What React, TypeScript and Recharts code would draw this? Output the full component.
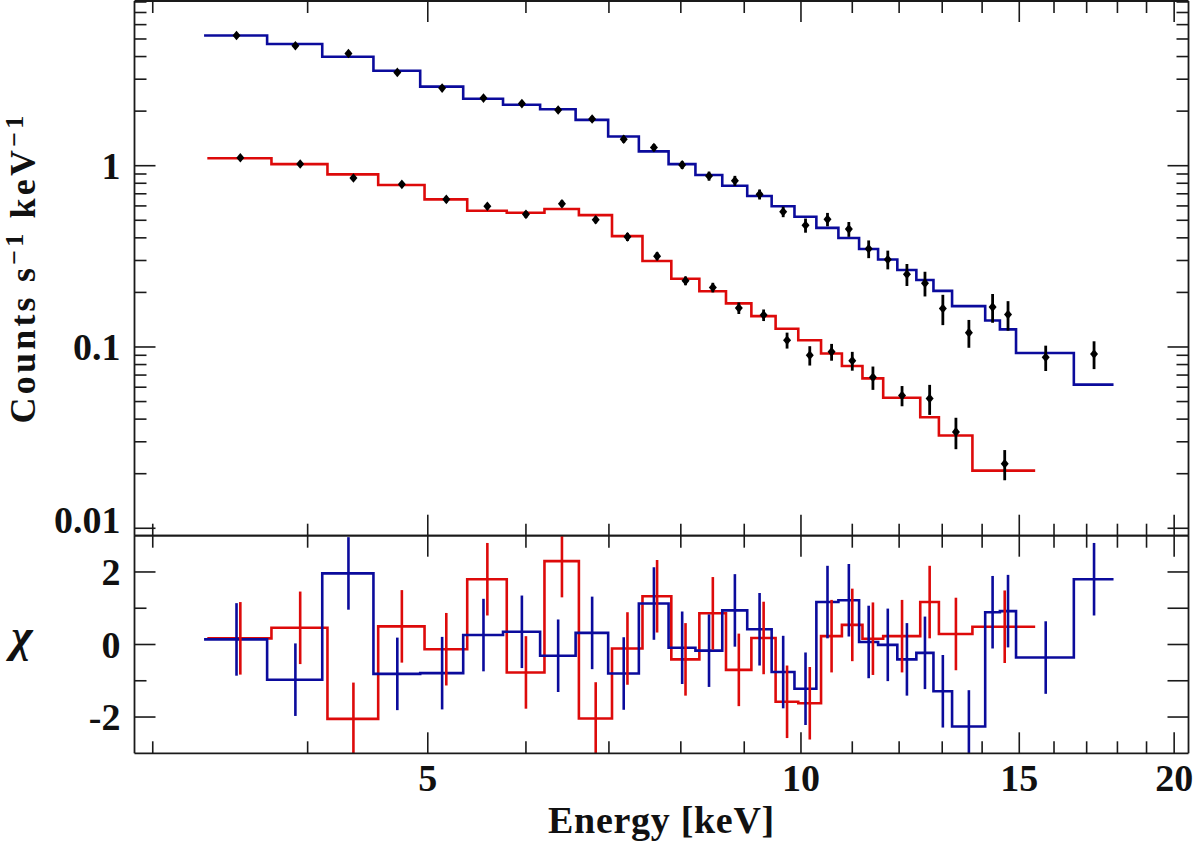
import { ComposedChart, ErrorBar, Line, Scatter, XAxis, YAxis } from 'recharts'

const INK = '#1a1a1a'
const BLUE = '#0b0b9c'
const RED = '#dd0a0a'
const FONT = "'Liberation Serif', 'Times New Roman', serif"

// axis ticks
const X_TICKS = [3, 4, 5, 6, 7, 8, 9, 10, 11, 12, 13, 14, 15, 16, 17, 18, 19, 20]
const X_LABELS = [5, 10, 15, 20]
const FLUX_TICKS = [
  0.01, 0.02, 0.03, 0.04, 0.05, 0.06, 0.07, 0.08, 0.09,
  0.1, 0.2, 0.3, 0.4, 0.5, 0.6, 0.7, 0.8, 0.9,
  1, 2, 3, 4, 5, 6, 7, 8,
]
const FLUX_LABELS = [0.01, 0.1, 1]
const CHI_TICKS = [-2, -1, 0, 1, 2]
const CHI_LABELS = [-2, 0, 2]

// blue spectrum: bin edges (keV), model, data, error, residual
const BLUE_EDGES = [
  3.3, 3.71, 4.11, 4.52, 4.93, 5.34, 5.75, 6.16, 6.58, 6.99, 7.4, 7.82, 8.22, 8.64, 9.05,
  9.47, 9.88, 10.29, 10.72, 11.14, 11.54, 11.96, 12.39, 12.79, 13.24, 14.08, 14.47, 14.91,
  16.6, 17.87,
]
const BLUE_MODEL = [
  5.23, 4.69, 3.99, 3.34, 2.73, 2.34, 2.17, 2.05, 1.79, 1.45, 1.2, 1.02, 0.888, 0.775,
  0.68, 0.597, 0.523, 0.454, 0.399, 0.347, 0.304, 0.266, 0.234, 0.204, 0.168, 0.14, 0.125,
  0.0926, 0.062,
]
const BLUE_DATA = [
  5.23, 4.59, 4.16, 3.27, 2.68, 2.36, 2.2, 2.03, 1.81, 1.4, 1.26, 1.01, 0.877, 0.826,
  0.695, 0.557, 0.469, 0.506, 0.447, 0.348, 0.304, 0.252, 0.225, 0.163, 0.12, 0.166, 0.151,
  0.0877, 0.0915,
]
const BLUE_ERR = [
  0.1, 0.087, 0.1, 0.08, 0.067, 0.075, 0.07, 0.077, 0.069, 0.063, 0.057, 0.051, 0.05, 0.053,
  0.044, 0.037, 0.042, 0.043, 0.042, 0.039, 0.036, 0.035, 0.035, 0.031, 0.021, 0.03, 0.028,
  0.014, 0.016,
]
const BLUE_CHI = [
  0.14, -0.97, 1.96, -0.81, -0.79, 0.26, 0.35, -0.31, 0.32, -0.8, 1.13, -0.09, -0.17, 0.94,
  0.42, -0.76, -1.22, 1.17, 1.22, 0.07, -0.01, -0.41, -0.23, -1.29, -2.26, 0.89, 0.92, -0.36,
  1.8,
]

// red spectrum
const RED_EDGES = [
  3.32, 3.74, 4.15, 4.56, 4.97, 5.38, 5.79, 6.21, 6.62, 7.04, 7.45, 7.86, 8.28, 8.7, 9.12,
  9.54, 9.95, 10.38, 10.79, 11.21, 11.65, 12.48, 12.92, 13.75, 15.45,
]
const RED_MODEL = [
  1.1, 1.02, 0.896, 0.782, 0.652, 0.564, 0.55, 0.577, 0.534, 0.409, 0.298, 0.238, 0.203,
  0.174, 0.148, 0.126, 0.109, 0.092, 0.0785, 0.0671, 0.0525, 0.041, 0.0325, 0.0208,
]
const RED_DATA = [
  1.107, 1.022, 0.855, 0.789, 0.652, 0.597, 0.539, 0.617, 0.503, 0.405, 0.317, 0.232, 0.213,
  0.164, 0.15, 0.109, 0.09, 0.094, 0.084, 0.068, 0.054, 0.052, 0.034, 0.0227,
]
const RED_ERR = [
  0.028, 0.026, 0.027, 0.025, 0.025, 0.023, 0.024, 0.027, 0.022, 0.021, 0.016, 0.013, 0.013,
  0.012, 0.011, 0.011, 0.011, 0.01, 0.01, 0.01, 0.0069, 0.0098, 0.0067, 0.0043,
]
const RED_CHI = [
  0.17, 0.46, -2.05, 0.5, -0.13, 1.8, -0.77, 2.3, -2.04, -0.11, 1.33, -0.41, 0.86, -0.7,
  0.18, -1.58, -1.62, 0.23, 0.54, 0.16, 0.23, 1.17, 0.29, 0.49,
]

const X_DOMAIN = [2.9, 20.54]
const FLUX_DOMAIN = [0.0091, 8.1]
const CHI_DOMAIN = [-3, 3]

const steps = (edges: number[], vals: number[]) =>
  edges.map((e, i) => ({ e, v: vals[Math.min(i, vals.length - 1)] }))

const points = (edges: number[], vals: number[], errs: number[]) =>
  vals.map((v, i) => ({ e: (edges[i] + edges[i + 1]) / 2, v, err: errs[i] }))

// residual crosses are +-1 sigma; keep the bars inside the panel
const chiPoints = (edges: number[], vals: number[]) =>
  vals.map((v, i) => ({
    e: (edges[i] + edges[i + 1]) / 2,
    v,
    err: [Math.min(1, v - CHI_DOMAIN[0]), Math.min(1, CHI_DOMAIN[1] - v)],
  }))

// layout (page pixels)
const W = 1200
const PLOT_L = 134.5
const PLOT_R = 1188.5
const SPLIT = 535.7
const BOTTOM = 753.3
const BOT_TOP = 500
const MAJOR = 21
const MINOR = 12

const textStyle = { fontFamily: FONT, fontWeight: 700, fontSize: 38, fill: '#111' }

const xTick = (dir: number, labels: boolean) => (p: any) => {
  const v = p.payload.value
  const major = X_LABELS.includes(v)
  return (
    <g>
      <line x1={p.x} x2={p.x} y1={p.y} y2={p.y + dir * (major ? MAJOR : MINOR)} stroke={INK} strokeWidth={1.6} />
      {labels && major && (
        <text x={p.x} y={p.y + 37.7} textAnchor="middle" style={textStyle}>
          {v}
        </text>
      )}
    </g>
  )
}

const yTick = (dir: number, majors: number[], labels: boolean, allLong = false) => (p: any) => {
  const v = p.payload.value
  const major = majors.includes(v)
  const len = major || allLong ? MAJOR : MINOR
  return (
    <g>
      <line x1={p.x} x2={p.x + dir * len} y1={p.y} y2={p.y} stroke={INK} strokeWidth={1.6} />
      {labels && major && (
        <text x={p.x - 14} y={p.y + (v === 0.01 ? 5 : 13)} textAnchor="end" style={textStyle}>
          {v}
        </text>
      )}
    </g>
  )
}

const axisLine = { stroke: INK, strokeWidth: 1.8 }
const common = {
  type: 'number' as const,
  allowDataOverflow: true,
  interval: 0 as const,
  tickLine: false,
  tickSize: 0,
  tickMargin: 0,
  axisLine,
}

const CountsTitle = () => (
  <text
    transform="rotate(-90 35 268)"
    x={35}
    y={268}
    textAnchor="middle"
    style={{ ...textStyle, fontSize: 36, letterSpacing: 3.2 }}
  >
    Counts s
    <tspan dy={-12} fontSize={26}>
      −1
    </tspan>
    <tspan dy={12}>{' keV'}</tspan>
    <tspan dy={-12} fontSize={26}>
      −1
    </tspan>
  </text>
)

const EnergyTitle = () => (
  <text x={(PLOT_L + PLOT_R) / 2} y={833 - BOT_TOP} textAnchor="middle" style={{ ...textStyle, letterSpacing: 0.7 }}>
    Energy [keV]
  </text>
)

const ChiTitle = () => (
  <text
    x={22}
    y={651 - BOT_TOP}
    textAnchor="middle"
    style={{ fontFamily: FONT, fontStyle: 'italic', fontWeight: 700, fontSize: 46, fill: '#111' }}
  >
    χ
  </text>
)

const Diamond = (p: any) => (
  <path d={`M${p.cx} ${p.cy - 4.8}L${p.cx + 4} ${p.cy}L${p.cx} ${p.cy + 4.8}L${p.cx - 4} ${p.cy}Z`} fill="#000" />
)
const NoMark = () => <g />

// axes get a 1px band so recharts draws them; margins shrink by the same amount
const margins = (top: number, bottom: number) => ({
  top: top - 1,
  bottom: bottom - 1,
  left: PLOT_L - 1,
  right: W - PLOT_R - 1,
})

export default function App() {
  const topH = 540
  const botH = 345
  return (
    <div style={{ position: 'absolute', left: 0, top: 0, width: W, height: 845, background: '#fff' }}>
      <div style={{ position: 'absolute', left: 0, top: 0 }}>
        <ComposedChart width={W} height={topH} margin={margins(1, topH - SPLIT)}>
          <XAxis {...common} xAxisId="x" dataKey="e" scale="log" domain={X_DOMAIN} ticks={X_TICKS} height={1} orientation="bottom" tick={xTick(-1, false)} />
          <XAxis {...common} xAxisId="xt" dataKey="e" scale="log" domain={X_DOMAIN} ticks={X_TICKS} height={1} orientation="top" tick={xTick(1, false)} />
          <YAxis {...common} yAxisId="l" dataKey="v" scale="log" domain={FLUX_DOMAIN} ticks={FLUX_TICKS} width={1} orientation="left" tick={yTick(1, FLUX_LABELS, true)} label={CountsTitle} />
          <YAxis {...common} yAxisId="r" dataKey="v" scale="log" domain={FLUX_DOMAIN} ticks={FLUX_TICKS} width={1} orientation="right" tick={yTick(-1, FLUX_LABELS, false)} />
          <Line xAxisId="x" yAxisId="l" data={steps(BLUE_EDGES, BLUE_MODEL)} dataKey="v" type="stepAfter" stroke={BLUE} strokeWidth={2.6} dot={false} isAnimationActive={false} />
          <Line xAxisId="x" yAxisId="l" data={steps(RED_EDGES, RED_MODEL)} dataKey="v" type="stepAfter" stroke={RED} strokeWidth={2.6} dot={false} isAnimationActive={false} />
          <Scatter xAxisId="x" yAxisId="l" data={points(BLUE_EDGES, BLUE_DATA, BLUE_ERR)} dataKey="v" shape={Diamond} isAnimationActive={false}>
            <ErrorBar dataKey="err" direction="y" width={0} stroke="#000" strokeWidth={2.8} />
          </Scatter>
          <Scatter xAxisId="x" yAxisId="l" data={points(RED_EDGES, RED_DATA, RED_ERR)} dataKey="v" shape={Diamond} isAnimationActive={false}>
            <ErrorBar dataKey="err" direction="y" width={0} stroke="#000" strokeWidth={2.8} />
          </Scatter>
        </ComposedChart>
      </div>
      <div style={{ position: 'absolute', left: 0, top: BOT_TOP }}>
        <ComposedChart width={W} height={botH} margin={margins(SPLIT - BOT_TOP, botH - (BOTTOM - BOT_TOP))}>
          <XAxis {...common} xAxisId="x" dataKey="e" scale="log" domain={X_DOMAIN} ticks={X_TICKS} height={1} orientation="bottom" tick={xTick(-1, true)} label={EnergyTitle} />
          <XAxis {...common} xAxisId="xt" dataKey="e" scale="log" domain={X_DOMAIN} ticks={X_TICKS} height={1} orientation="top" tick={xTick(1, false)} />
          <YAxis {...common} yAxisId="l" dataKey="v" domain={CHI_DOMAIN} ticks={CHI_TICKS} width={1} orientation="left" tick={yTick(1, CHI_LABELS, true)} label={ChiTitle} />
          <YAxis {...common} yAxisId="r" dataKey="v" domain={CHI_DOMAIN} ticks={CHI_TICKS} width={1} orientation="right" tick={yTick(-1, CHI_LABELS, false, true)} />
          <Line xAxisId="x" yAxisId="l" data={steps(RED_EDGES, RED_CHI)} dataKey="v" type="stepAfter" stroke={RED} strokeWidth={2.6} dot={false} isAnimationActive={false} />
          <Line xAxisId="x" yAxisId="l" data={steps(BLUE_EDGES, BLUE_CHI)} dataKey="v" type="stepAfter" stroke={BLUE} strokeWidth={2.6} dot={false} isAnimationActive={false} />
          <Scatter xAxisId="x" yAxisId="l" data={chiPoints(RED_EDGES, RED_CHI)} dataKey="v" shape={NoMark} isAnimationActive={false}>
            <ErrorBar dataKey="err" direction="y" width={0} stroke={RED} strokeWidth={2.6} />
          </Scatter>
          <Scatter xAxisId="x" yAxisId="l" data={chiPoints(BLUE_EDGES, BLUE_CHI)} dataKey="v" shape={NoMark} isAnimationActive={false}>
            <ErrorBar dataKey="err" direction="y" width={0} stroke={BLUE} strokeWidth={2.6} />
          </Scatter>
        </ComposedChart>
      </div>
    </div>
  )
}
